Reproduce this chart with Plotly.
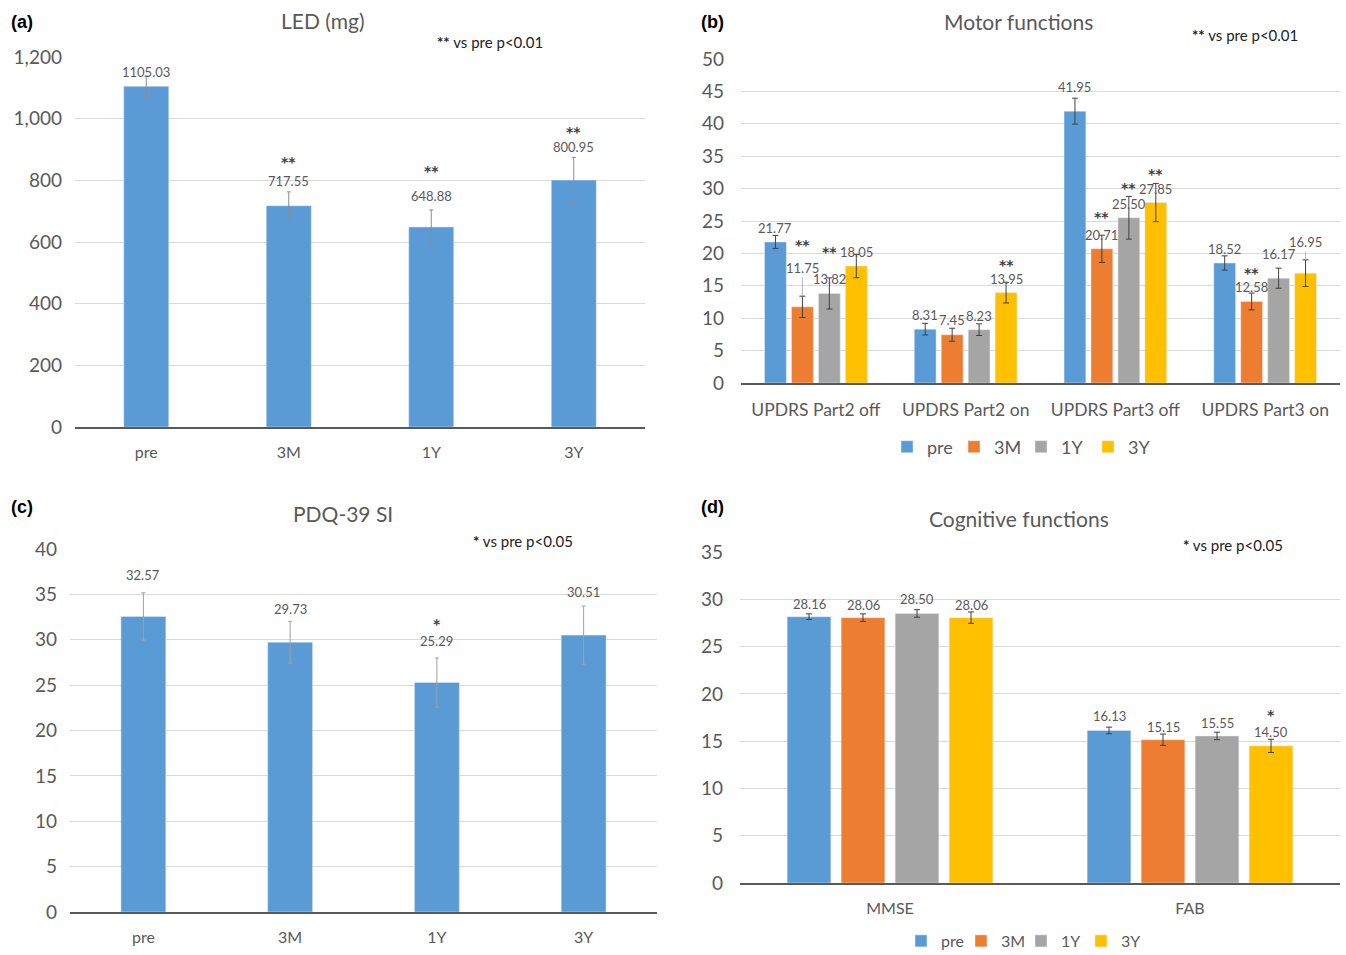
import plotly.graph_objects as go

W, H = 1346, 955

# ---------------- data ----------------
series_names = ["pre", "3M", "1Y", "3Y"]
series_colors = ["#5B9BD5", "#ED7D31", "#A5A5A5", "#FFC000"]

# (a) LED
led_cats = ["pre", "3M", "1Y", "3Y"]
led_vals = [1105.03, 717.55, 648.88, 800.95]
led_err = [33, 45, 55, 73]
led_sig = ["", "**", "**", "**"]

# (b) Motor functions
motor_cats = ["UPDRS Part2 off", "UPDRS Part2 on", "UPDRS Part3 off", "UPDRS Part3 on"]
motor_pre = [21.77, 8.31, 41.95, 18.52]
motor_3m = [11.75, 7.45, 20.71, 12.58]
motor_1y = [13.82, 8.23, 25.50, 16.17]
motor_3y = [18.05, 13.95, 27.85, 16.95]
motor_pre_err = [1.0, 0.9, 2.0, 1.1]
motor_3m_err = [1.65, 1.0, 2.1, 1.3]
motor_1y_err = [2.4, 0.9, 3.3, 1.55]
motor_3y_err = [1.8, 1.6, 2.95, 2.05]
motor_pre_sig = ["", "", "", ""]
motor_3m_sig = ["**", "", "**", "**"]
motor_1y_sig = ["**", "", "**", ""]
motor_3y_sig = ["", "**", "**", ""]

# (c) PDQ-39 SI
pdq_cats = ["pre", "3M", "1Y", "3Y"]
pdq_vals = [32.57, 29.73, 25.29, 30.51]
pdq_err = [2.6, 2.3, 2.7, 3.2]
pdq_sig = ["", "", "*", ""]

# (d) Cognitive functions
cog_cats = ["MMSE", "FAB"]
cog_pre = [28.16, 16.13]
cog_3m = [28.06, 15.15]
cog_1y = [28.50, 15.55]
cog_3y = [28.06, 14.50]
cog_pre_err = [0.3, 0.35]
cog_3m_err = [0.4, 0.6]
cog_1y_err = [0.4, 0.4]
cog_3y_err = [0.6, 0.7]
cog_pre_sig = ["", ""]
cog_3m_sig = ["", ""]
cog_1y_sig = ["", ""]
cog_3y_sig = ["", "*"]

# ---------------- styles ----------------
FONT = "Lato, 'Open Sans', sans-serif"
STARFONT = "'DejaVu Sans', sans-serif"
GREY_TXT = "#595959"
GRID = "#D9D9D9"
AXLINE = "#595959"

def px(x):
    return min(max(x / W, 0.0), 1.0)

def py(y):
    return min(max(1 - y / H, 0.0), 1.0)

fig = go.Figure()

# label lifts (pixels above bar top) -- styling of text placement
led_lift = [14, 25, 31, 33]
led_star_lift = [0, 46, 58, 50]
pdq_lift = [41, 33, 41, 43]
pdq_star_lift = [0, 0, 60, 0]
motor_lift = [[14, 14, 24, 14], [45, 15, 14, 14], [14, 14, 14, 24], [14, 14, 14, 37]]
motor_star_lift = [[0, 0, 0, 0], [64, 0, 34, 30], [43, 0, 32, 0], [0, 30, 31, 0]]
motor_leader = [[False] * 4, [True, False, False, False], [False] * 4, [False, False, False, True]]
cog_lift = [[13, 14], [13, 13], [14, 13], [13, 14]]
cog_star_lift = [[0, 0], [0, 0], [0, 0], [0, 33]]

annotations = []

def label(xref, yref, x, y, text, lift, size, color=GREY_TXT, family=FONT):
    annotations.append(dict(xref=xref, yref=yref, x=x, y=y, text=text, showarrow=False,
                            yanchor="middle", xanchor="center", yshift=lift,
                            font=dict(family=family, size=size, color=color)))

def star(xref, yref, x, y, text, lift):
    label(xref, yref, x, y, f"<b>{text}</b>", lift - 2, 14, "#404040", STARFONT)

def leader(xref, yref, x, y, text, lift, err_px, size):
    annotations.append(dict(xref=xref, yref=yref, x=x, y=y, text=text, showarrow=True,
                            arrowhead=0, arrowwidth=0.8, arrowcolor="#A6A6A6",
                            ax=0, ay=-(lift - err_px), standoff=0,
                            font=dict(family=FONT, size=size, color=GREY_TXT)))

# ---- (a) ----
fig.add_trace(go.Bar(x=led_cats, y=led_vals, xaxis="x", yaxis="y", width=0.316,
                     marker=dict(color=series_colors[0]), showlegend=False,
                     error_y=dict(type="data", array=led_err, color="#8C8C8C", thickness=1, width=2)))
for i, (v, s) in enumerate(zip(led_vals, led_sig)):
    label("x", "y", i, v, f"{v:.2f}", led_lift[i], 13)
    if s:
        star("x", "y", i, v, s, led_star_lift[i])

# ---- (c) ----
fig.add_trace(go.Bar(x=pdq_cats, y=pdq_vals, xaxis="x3", yaxis="y3", width=0.306,
                     marker=dict(color=series_colors[0]), showlegend=False,
                     error_y=dict(type="data", array=pdq_err, color="#A0A0A0", thickness=1, width=2)))
for i, (v, s) in enumerate(zip(pdq_vals, pdq_sig)):
    label("x3", "y3", i, v, f"{v:.2f}", pdq_lift[i], 13)
    if s:
        star("x3", "y3", i, v, s, pdq_star_lift[i])

# ---- (b) ----
motor_vals = [motor_pre, motor_3m, motor_1y, motor_3y]
motor_errs = [motor_pre_err, motor_3m_err, motor_1y_err, motor_3y_err]
motor_sigs = [motor_pre_sig, motor_3m_sig, motor_1y_sig, motor_3y_sig]
GROUP_W = 0.72  # 1 - bargap
b_px_per_unit = (383 - 59) / 50
for k, name in enumerate(series_names):
    fig.add_trace(go.Bar(name=name, x=motor_cats, y=motor_vals[k], xaxis="x2", yaxis="y2",
                         marker=dict(color=series_colors[k]), legend="legend",
                         error_y=dict(type="data", array=motor_errs[k], color="#404040",
                                      thickness=1, width=3)))
    off = (k - 1.5) * GROUP_W / 4
    for i, v in enumerate(motor_vals[k]):
        if motor_leader[k][i]:
            leader("x2", "y2", i + off, v + motor_errs[k][i], f"{v:.2f}", motor_lift[k][i],
                   motor_errs[k][i] * b_px_per_unit + 6, 13)
        else:
            label("x2", "y2", i + off, v, f"{v:.2f}", motor_lift[k][i], 13)
        if motor_sigs[k][i]:
            star("x2", "y2", i + off, v, motor_sigs[k][i], motor_star_lift[k][i])

# ---- (d) ----
cog_vals = [cog_pre, cog_3m, cog_1y, cog_3y]
cog_errs = [cog_pre_err, cog_3m_err, cog_1y_err, cog_3y_err]
cog_sigs = [cog_pre_sig, cog_3m_sig, cog_1y_sig, cog_3y_sig]
for k, name in enumerate(series_names):
    fig.add_trace(go.Bar(name=name, x=cog_cats, y=cog_vals[k], xaxis="x4", yaxis="y4",
                         marker=dict(color=series_colors[k]), legend="legend2",
                         error_y=dict(type="data", array=cog_errs[k], color="#404040",
                                      thickness=1, width=3)))
    off = (k - 1.5) * GROUP_W / 4
    for i, v in enumerate(cog_vals[k]):
        label("x4", "y4", i + off, v, f"{v:.2f}", cog_lift[k][i], 13)
        if cog_sigs[k][i]:
            star("x4", "y4", i + off, v, cog_sigs[k][i], cog_star_lift[k][i])

# ---- titles, notes, panel letters ----
def paper_text(x, y, text, size, color=GREY_TXT, family=FONT, xanchor="center", bold=False):
    annotations.append(dict(xref="paper", yref="paper", x=px(x), y=py(y),
                            text=f"<b>{text}</b>" if bold else text, showarrow=False,
                            xanchor=xanchor, yanchor="middle",
                            font=dict(family=family, size=size, color=color)))

paper_text(323, 20, "LED (mg)", 21)
paper_text(1018, 22, "Motor functions", 21)
paper_text(343, 513, "PDQ-39 SI", 21)
paper_text(1019, 518, "Cognitive functions", 21)
paper_text(490, 42, "<b>**</b> vs pre p&lt;0.01", 15, "#222222")
paper_text(1245, 35, "<b>**</b> vs pre p&lt;0.01", 15, "#222222")
paper_text(523, 541, "<b>*</b> vs pre p&lt;0.05", 15, "#222222")
paper_text(1233, 545, "<b>*</b> vs pre p&lt;0.05", 15, "#222222")
paper_text(9, 22, "(a)", 18, "#000000", "Liberation Sans, Arial", "left", True)
paper_text(699, 22, "(b)", 18, "#000000", "Liberation Sans, Arial", "left", True)
paper_text(9, 507, "(c)", 18, "#000000", "Liberation Sans, Arial", "left", True)
paper_text(699, 507, "(d)", 18, "#000000", "Liberation Sans, Arial", "left", True)

def xax(domain, anchor, size):
    return dict(domain=domain, anchor=anchor, type="category", showgrid=False,
                showline=True, linecolor=AXLINE, linewidth=1.5, ticks="",
                ticklabelstandoff=10, fixedrange=True, automargin=False,
                tickfont=dict(family=FONT, size=size, color=GREY_TXT))

def yax(domain, anchor, rng, dtick, standoff, fmt=""):
    return dict(domain=domain, anchor=anchor, range=rng, dtick=dtick, tickformat=fmt,
                showgrid=True, gridcolor=GRID, gridwidth=1, zeroline=False, showline=False,
                ticks="", ticklabelstandoff=standoff, automargin=False, fixedrange=True,
                tickfont=dict(family=FONT, size=19, color=GREY_TXT))

fig.update_layout(
    width=W, height=H, margin=dict(l=0, r=0, t=0, b=0, autoexpand=False),
    paper_bgcolor="white", plot_bgcolor="white",
    barmode="group", bargap=0.28, bargroupgap=0.19,
    xaxis=xax([px(75), px(645)], "y", 16),
    yaxis=yax([py(427), py(57)], "x", [0, 1200], 200, 12, ","),
    xaxis2=xax([px(741), px(1340)], "y2", 17.5),
    yaxis2=yax([py(383), py(59)], "x2", [0, 50], 5, 16),
    xaxis3=xax([px(70), px(657)], "y3", 16),
    yaxis3=yax([py(912), py(549)], "x3", [0, 40], 5, 12),
    xaxis4=xax([px(740), px(1340)], "y4", 16),
    yaxis4=yax([py(883), py(552)], "x4", [0, 35], 5, 16),
    legend=dict(orientation="h", x=px(1021), y=py(447), xanchor="center", yanchor="middle",
                font=dict(family=FONT, size=18, color=GREY_TXT), itemwidth=30,
                entrywidth=22, bgcolor="rgba(0,0,0,0)"),
    legend2=dict(orientation="h", x=px(1021), y=py(941), xanchor="center", yanchor="middle",
                 font=dict(family=FONT, size=16, color=GREY_TXT), itemwidth=30,
                 entrywidth=15, bgcolor="rgba(0,0,0,0)"),
    annotations=annotations,
    showlegend=True,
)

fig.write_html("out.html",
               config={"displayModeBar": False},
               post_script="document.body.style.margin='0';document.body.style.overflow='hidden';")
